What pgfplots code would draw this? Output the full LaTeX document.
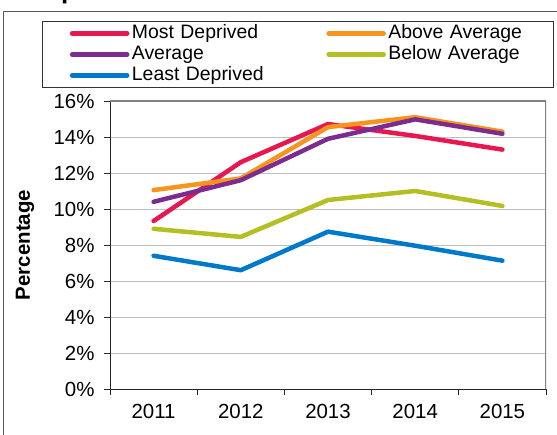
\documentclass[border=0pt]{standalone}
\usepackage{fontspec}
\setmainfont{Liberation Sans}
\usepackage{pgfplots}
\pgfplotsset{compat=1.18}
\definecolor{cMost}{HTML}{E8174F}
\definecolor{cAbove}{HTML}{F7941D}
\definecolor{cAvg}{HTML}{7B2C8E}
\definecolor{cBelow}{HTML}{B3BF22}
\definecolor{cLeast}{HTML}{0079C8}
\begin{document}
\begin{tikzpicture}
\path[use as bounding box] (0,0) rectangle (557bp,435bp);
\draw[color=black!65, line width=0.8bp] (3.5bp,-10bp) rectangle (580bp,424bp);
\node[anchor=base west, inner sep=0pt, font=\bfseries\fontsize{26}{26}\selectfont] at (61bp,436.5bp) {p};
\begin{axis}[
  at={(110bp,46bp)}, anchor=south west,
  scale only axis, width=436bp, height=288bp,
  xmin=2010.5, xmax=2015.5, ymin=0, ymax=16,
  xtick={2010.5,2011.5,2012.5,2013.5,2014.5,2015.5},
  xticklabels={2011,2012,2013,2014,2015},
  x tick label as interval,
  ytick={0,2,...,16},
  yticklabel={\pgfmathprintnumber{\tick}\%},
  /pgf/number format/assume math mode=true,
  axis x line*=bottom, axis y line*=left,
  axis line style={black!85, line width=0.8bp},
  tick align=outside, major tick length=6bp,
  tick style={black!85, line width=0.8bp},
  ymajorgrids, major grid style={color=black!25, line width=0.8bp},
  tick label style={font=\fontsize{20.5}{24}\selectfont},
  yticklabel style={xshift=-6bp},
  xticklabel style={yshift=-6bp},
  ylabel={\bfseries Percentage},
  ylabel style={at={(axis description cs:-0.195,0.5)}, anchor=center, font=\fontsize{20.5}{24}\selectfont},
  legend columns=2,
  legend cell align=left,
  legend image code/.code={\draw[#1, line width=4.5bp, line cap=round] (2.5bp,0bp) -- (52.5bp,0bp); \path (0bp,0bp) -- (55bp,0bp);},
  legend style={at={(axis description cs:-0.1571,1.2778)}, anchor=north west,
    draw=black!80, line width=0.8bp, inner xsep=28bp, inner ysep=1.5bp,
    font=\fontsize{19.5}{22}\selectfont,
    nodes={inner xsep=2.5bp, inner ysep=1.5bp, text height=14bp, text depth=4bp, text width=134bp, align=left},
    row sep=0pt,
    /tikz/every even column/.append style={column sep=58bp}},
  every axis plot/.append style={line width=4.5bp, line cap=round, line join=round},
]
\addplot[cMost] coordinates {(2011,9.33) (2012,12.6) (2013,14.72) (2014,14.06) (2015,13.3)};
\addlegendentry{Most Deprived}
\addplot[cAbove] coordinates {(2011,11.05) (2012,11.7) (2013,14.55) (2014,15.1) (2015,14.3)};
\addlegendentry{Above Average}
\addplot[cAvg] coordinates {(2011,10.4) (2012,11.6) (2013,13.9) (2014,14.98) (2015,14.18)};
\addlegendentry{Average}
\addplot[cBelow] coordinates {(2011,8.9) (2012,8.45) (2013,10.5) (2014,11.0) (2015,10.17)};
\addlegendentry{Below Average}
\addplot[cLeast] coordinates {(2011,7.4) (2012,6.6) (2013,8.74) (2014,7.96) (2015,7.13)};
\addlegendentry{Least Deprived}
\draw[color=black!50, line width=2bp] (rel axis cs:0,1) -- (rel axis cs:1,1) -- (rel axis cs:1,0);
\end{axis}
\end{tikzpicture}
\end{document}
